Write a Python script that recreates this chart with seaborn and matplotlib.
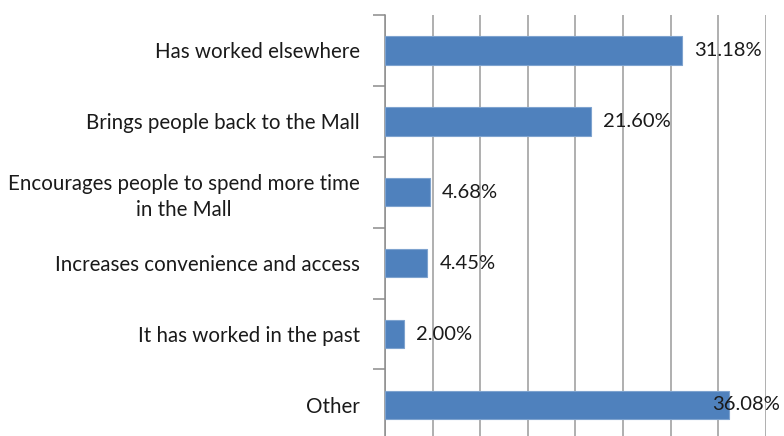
import matplotlib
matplotlib.use("Agg")
import matplotlib.pyplot as plt
import seaborn as sns
import pandas as pd

# Chart data
categories = [
    "Has worked elsewhere",
    "Brings people back to the Mall",
    "Encourages people to spend more time\nin the Mall",
    "Increases convenience and access",
    "It has worked in the past",
    "Other",
]
values = [31.18, 21.60, 4.68, 4.45, 2.00, 36.08]
value_labels = ["31.18%", "21.60%", "4.68%", "4.45%", "2.00%", "36.08%"]

df = pd.DataFrame({"Reason": categories, "Percent": values})

sns.set_style("white")
plt.rcParams["font.family"] = ["Lato", "DejaVu Sans"]

fig = plt.figure(figsize=(7.84, 4.36), dpi=100)
ax = fig.add_axes([0.491, -0.01, 0.486, 0.9756])

sns.barplot(data=df, x="Percent", y="Reason", orient="h", color="#4F81BD",
            saturation=1, width=0.4, edgecolor="#7EA3CF", linewidth=0.8, ax=ax,
            zorder=3)

ax.set_xlim(0, 40)
ax.set_xticks(range(0, 41, 5))
ax.set_xticklabels([])
ax.tick_params(axis="x", length=0)
ax.grid(axis="x", color="#9A9A9A", linewidth=1.1, zorder=0)
ax.set_axisbelow(True)

# category separators as minor ticks on the left axis
ax.set_yticks([i - 0.5 for i in range(len(categories) + 1)], minor=True)
ax.tick_params(axis="y", which="minor", left=True, length=9, width=1.1,
               color="#8C8C8C", direction="out")
ax.tick_params(axis="y", which="major", length=0, pad=18, labelsize=14.8,
               labelcolor="#1a1a1a")
for lab in ax.get_yticklabels():
    lab.set_multialignment("center")
    lab.set_linespacing(1.35)

ax.set_xlabel("")
ax.set_ylabel("")
for side in ["top", "right", "bottom"]:
    ax.spines[side].set_visible(False)
ax.spines["left"].set_color("#8C8C8C")
ax.spines["left"].set_linewidth(1.1)

for i, (v, txt) in enumerate(zip(values, value_labels)):
    # the last label doesn't fit past the bar end, so it overlaps it
    dx = -12 if i == len(values) - 1 else 9
    ax.annotate(txt, (v, i), xytext=(dx, 0), textcoords="offset points",
                ha="left", va="center", fontsize=14.5, color="#1a1a1a", zorder=5)

fig.savefig("out.png", dpi=100)
